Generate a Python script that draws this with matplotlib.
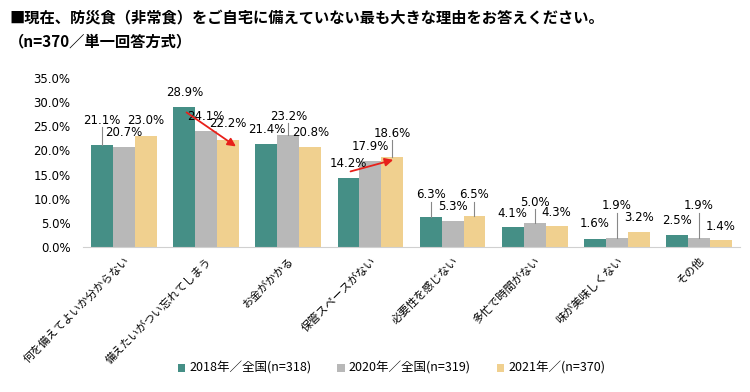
import matplotlib
matplotlib.use("Agg")
from matplotlib import pyplot as plt
import numpy as np

plt.rcParams['font.family'] = ['DejaVu Sans', 'Noto Sans CJK JP']

categories = ["何を備えてよいか分からない", "備えたいがつい忘れてしまう", "お金がかかる",
              "保管スペースがない", "必要性を感じない", "多忙で時間がない",
              "味が美味しくない", "その他"]
v2018 = [21.1, 28.9, 21.4, 14.2, 6.3, 4.1, 1.6, 2.5]
v2020 = [20.7, 24.1, 23.2, 17.9, 5.3, 5.0, 1.9, 1.9]
v2021 = [23.0, 22.2, 20.8, 18.6, 6.5, 4.3, 3.2, 1.4]
series_names = ["2018年／全国(n=318)", "2020年／全国(n=319)", "2021年／(n=370)"]
colors = ["#458F86", "#B8B8B8", "#F0D08F"]

# label heights (where the text sits) and whether a leader line is drawn
lab_y = [[26.3, 31.9, 24.4, 17.2, 10.8, 7.0, 4.8, 5.4],
         [23.8, 27.1, 27.1, 20.9, 8.3, 9.3, 8.5, 8.5],
         [26.1, 25.5, 23.8, 23.6, 10.8, 7.2, 6.2, 4.3]]
leader = [[1, 0, 0, 0, 1, 0, 0, 0],
          [0, 0, 1, 0, 0, 1, 1, 1],
          [0, 0, 0, 1, 1, 0, 0, 0]]

fig = plt.figure(figsize=(7.5, 3.92), dpi=100)
ax = fig.add_axes([83/750, 1-247/392, 657/750, 169/392])

x = np.arange(len(categories))
w = 0.267
data = [v2018, v2020, v2021]
for k, vals in enumerate(data):
    pos = x + (k-1)*w
    ax.bar(pos, vals, w, color=colors[k], label=series_names[k])
    for i, v in enumerate(vals):
        ax.text(pos[i], lab_y[k][i], f"{v:.1f}%", ha='center', va='center', fontsize=8.5)
        if leader[k][i]:
            ax.plot([pos[i], pos[i]], [v, lab_y[k][i]-1.4], color='#888888', lw=0.8)

# red arrows
ax.annotate("", xy=(1+0.39, 20.5), xytext=(1-w, 28.2),
            arrowprops=dict(arrowstyle='-|>', color='#E8201A', lw=1.3, mutation_scale=12))
ax.annotate("", xy=(3.31, 18.2), xytext=(2.725, 15.5),
            arrowprops=dict(arrowstyle='-|>', color='#E8201A', lw=1.3, mutation_scale=12))

ax.set_xlim(-0.5, 7.5)
ax.set_ylim(0, 35)
ax.set_yticks(np.arange(0, 36, 5))
ax.set_yticklabels([f"{t:.1f}%" for t in np.arange(0, 36, 5)], fontsize=8.5)
ax.set_xticks(x)
ax.set_xticklabels(categories, rotation=45, ha='right', rotation_mode='anchor',
                   fontsize=8, family=['Noto Sans CJK JP'])
for s in ['top', 'right', 'left']:
    ax.spines[s].set_visible(False)
ax.spines['bottom'].set_color('#D0D0D0')
ax.tick_params(axis='both', length=0)
ax.tick_params(axis='x', pad=6)
ax.tick_params(axis='y', pad=9)

fig.text(0.012, 0.955, "■現在、防災食（非常食）をご自宅に備えていない最も大きな理由をお答えください。",
         fontsize=11, fontweight='bold', family=['Noto Sans CJK JP'], va='center')
fig.text(0.012, 0.893, "（n=370／単一回答方式）",
         fontsize=11, fontweight='bold', family=['Noto Sans CJK JP'], va='center')

fig.legend(loc='center', bbox_to_anchor=(0.522, 0.06), ncol=3, frameon=False,
           handlelength=0.6, handleheight=0.6, handletextpad=0.3, columnspacing=2.1,
           prop={'family': ['Noto Sans CJK JP'], 'size': 9})

fig.savefig("out.png", dpi=100)
